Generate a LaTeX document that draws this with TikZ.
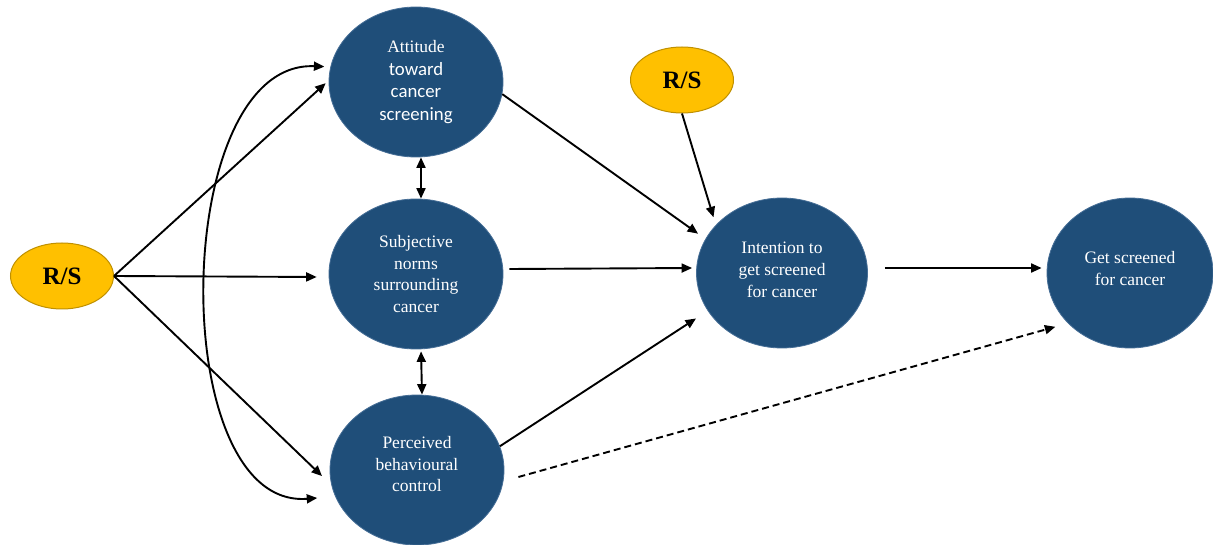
\documentclass[tikz,border=0pt]{standalone}
\usepackage{fontspec}
\setmainfont{Liberation Serif}
\newfontfamily\calib{Carlito}
\usetikzlibrary{shapes.geometric,arrows.meta,calc}
\definecolor{nodeblue}{RGB}{31,78,121}
\definecolor{edgeblue}{RGB}{70,110,150}
\definecolor{rsyellow}{RGB}{255,192,0}
\definecolor{rsedge}{RGB}{191,144,0}
\tikzset{
  bluenode/.style={ellipse, fill=nodeblue, draw=edgeblue, line width=0.8pt, inner sep=0pt,
    text=white, align=center, font=\fontsize{17.5}{21.7}\selectfont},
  rsnode/.style={ellipse, fill=rsyellow, draw=rsedge, line width=1pt, inner sep=0pt,
    minimum width=103pt, minimum height=66pt, font=\fontsize{25}{28}\selectfont\bfseries},
  arr/.style={line width=1.9pt, -{Triangle[length=10.5pt,width=9pt]}},
  darr/.style={line width=1.9pt, {Triangle[length=10.5pt,width=9pt]}-{Triangle[length=10.5pt,width=9pt]}},
  dasharr/.style={arr, dash pattern=on 7pt off 4pt}
}
\begin{document}
\begin{tikzpicture}[x=1pt,y=-1pt]
\useasboundingbox[fill=white] (0,0) rectangle (1213,545);
\node[rsnode] (rs1) at (62,276) {R/S};
\node[rsnode] (rs2) at (682,80) {R/S};
\node[bluenode, minimum width=174pt, minimum height=150pt, font=\fontsize{17.5}{22.8}\selectfont] (att) at (416,82)
  {Attitude\\{\calib\fontsize{18.8}{22.8}\selectfont toward}\\{\calib\fontsize{18.8}{22.8}\selectfont cancer}\\{\calib\fontsize{18.8}{22.8}\selectfont screening}};
\node[bluenode, minimum width=174pt, minimum height=150pt] (sub) at (416,274)
  {Subjective\\norms\\surrounding\\cancer};
\node[bluenode, minimum width=174pt, minimum height=150pt] (per) at (417,470)
  {Perceived\\behavioural\\control\\[-10pt]\mbox{}};
\node[bluenode, minimum width=171pt, minimum height=150pt] (int) at (782,273)
  {Intention to\\get screened\\for cancer\\[-15pt]\mbox{}};
\node[bluenode, minimum width=166pt, minimum height=150pt] (get) at (1130,273)
  {Get screened\\for cancer\\[-13pt]\mbox{}};

% from left R/S
\draw[arr, shorten >=4pt] (rs1.east) -- (att.179);
\draw[arr, shorten >=12pt] (rs1.east) -- (sub.182);
\draw[arr, shorten >=13pt] (rs1.east) -- (per.190);
% curved double arrow
\draw[darr, shorten <=6pt, shorten >=18pt] (att.170) .. controls (170,60) and (165,510) .. (per.198);
% vertical double arrows
\draw[darr] ([xshift=5pt]att.south) -- ([xshift=5pt]sub.north);
\draw[darr, shorten <=2pt] ([xshift=5pt]sub.south) -- ([xshift=5pt]per.north);
% into intention
\draw[arr, shorten >=9pt] (att.-8) -- (int.156.7);
\draw[arr, shorten >=8pt] (rs2.south) -- (int.144);
\draw[arr] ([shift={(6,-5)}]sub.east) -- ([shift={(-4,-5)}]int.west);
\draw[arr, shorten >=14pt] (per.16.8) -- (int.207.3);
% to get screened
\draw[arr] ([shift={(17,-5)}]int.east) -- ([shift={(-5,-5)}]get.west);
\draw[dasharr, shorten >=13pt] ([shift={(14,7)}]per.east) -- (get.219.8);
\end{tikzpicture}
\end{document}
